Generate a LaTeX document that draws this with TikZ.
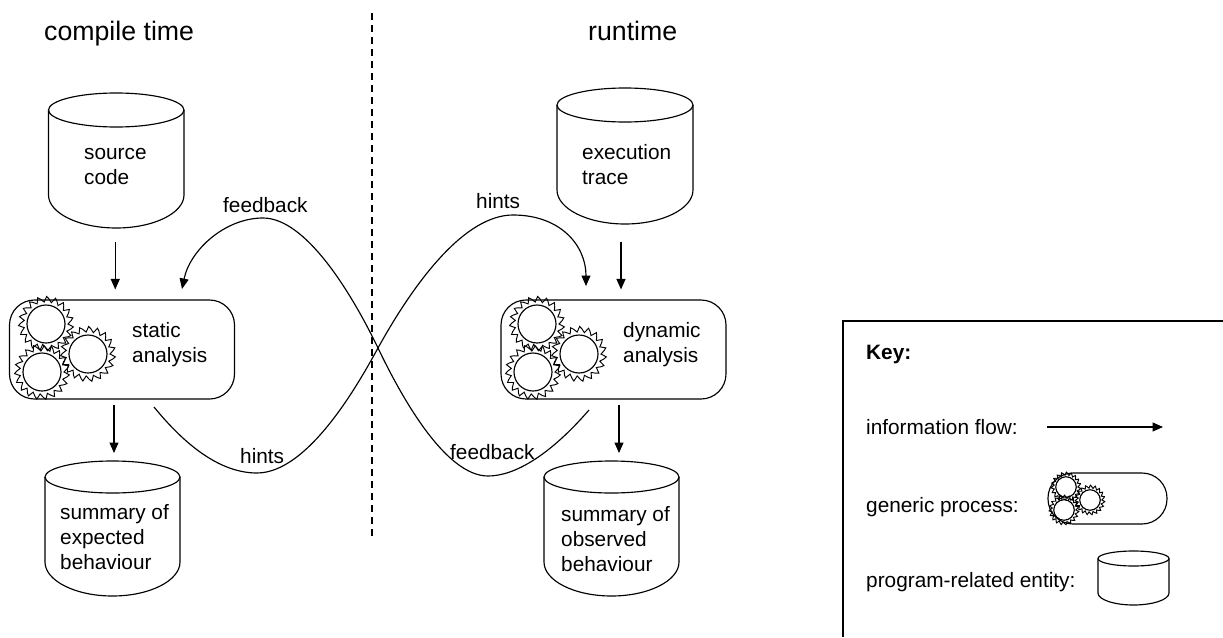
\documentclass[tikz,border=0pt]{standalone}
\usepackage{fontspec}
\setmainfont{Liberation Sans}
\usetikzlibrary{arrows.meta,calc}
\newcommand{\firststrut}{\rule{0pt}{16pt}}
\tikzset{
  ink/.style={line width=1.15pt,black},
  flow/.style={ink,-{Triangle[length=10.5pt,width=9pt]}},
  curvearrow/.style={ink,-{Triangle[length=10.5pt,width=9pt]}},
  procbox/.style={ink,draw,rounded corners=25pt,inner sep=0pt},
  hollow/.style={inner sep=0pt,outer sep=0pt},
  lab/.style={inner sep=0pt,anchor=north west,align=left,font=\fontsize{20.8}{25.3}\selectfont},
  titlelab/.style={inner sep=0pt,anchor=base west,font=\fontsize{26.7}{30}\selectfont},
  keyframe/.style={ink},
  divider/.style={line width=1.1pt,dash pattern=on 7pt off 5pt},
  gear/.pic={
    \draw[line width=0.95pt,line join=miter,miter limit=3]
      (0:22) \foreach \k in {0,...,18}{
        -- ({\k*360/19+6}:27.5) -- ({\k*360/19+11}:25.5) -- ({(\k+1)*360/19}:22)
      } -- cycle;
    \draw[ink,fill=white] (0,0) circle[radius=19pt];
  }
}
% name, x1, x2, top, mid, side end, bottom
\newcommand{\cylnode}[7]{%
  \pgfmathsetmacro{\cw}{#3-#2}\pgfmathsetmacro{\ch}{#7-#4}%
  \pgfmathsetmacro{\cx}{(#2+#3)/2}\pgfmathsetmacro{\cy}{(#4+#7)/2}%
  \pgfmathsetmacro{\rx}{\cw/2}\pgfmathsetmacro{\ry}{#5-#4}%
  \pgfmathsetmacro{\ca}{#2+0.45*\rx}\pgfmathsetmacro{\cb}{#3-0.45*\rx}%
  \pgfmathsetmacro{\dy}{#6+0.55*(#7-#6)}%
  \node[hollow,minimum width=\cw pt,minimum height=\ch pt] (#1) at (\cx,\cy) {};
  \draw[ink] (\cx,#5) ellipse[x radius=\rx pt,y radius=\ry pt];
  \draw[ink] (#2,#5) -- (#2,#6) .. controls (#2,\dy) and (\ca,#7) .. (\cx,#7)
     .. controls (\cb,#7) and (#3,\dy) .. (#3,#6) -- (#3,#5);
}
\begin{document}
\begin{tikzpicture}[x=1pt,y=-1pt]
\useasboundingbox (0,0) rectangle (1223,637);

% titles and divider
\node[titlelab] (tcompile) at (44,40) {compile time};
\node[titlelab] (truntime) at (588,40) {runtime};
\coordinate (divtop) at (372,13);
\coordinate (divbot) at (372,536);
\draw[divider] (divtop) -- (divbot);

% entities
\cylnode{src}{48.5}{184}{93}{110}{195}{228}
\cylnode{exec}{557}{693}{88}{105}{190}{224}
\cylnode{expd}{45}{180}{461}{477}{562}{596}
\cylnode{obsv}{544}{679}{461}{477}{562}{596}

\node[lab] (tsrc) at (84,143) {\firststrut source\\code};
\node[lab] (texec) at (582,143) {\firststrut execution\\trace};
\node[lab] (texpd) at (60,503) {\firststrut summary of\\expected\\behaviour};
\node[lab] (tobsv) at (561,505) {\firststrut summary of\\observed\\behaviour};

% processes
\node[procbox,minimum width=225pt,minimum height=99pt] (static) at (122,349.5) {};
\node[procbox,minimum width=225pt,minimum height=99pt] (dyn) at (613.5,349.5) {};
\foreach \ox in {0,491}{
  \pic at ({46+\ox},324) {gear};
  \pic at ({42+\ox},372) {gear};
  \pic at ({88+\ox},354) {gear};
}
\node[lab] (tstatic) at (132,321) {\firststrut static\\analysis};
\node[lab] (tdyn) at (623,321) {\firststrut dynamic\\analysis};

% information flow
\draw[flow,shorten <=14pt,shorten >=10pt] ([xshift=-1pt]src.south) -- ([xshift=-1pt]src.south |- static.north);
\draw[flow,shorten <=18pt,shorten >=10pt] ([xshift=-4pt]exec.south) -- ([xshift=-4pt]exec.south |- dyn.north);
\draw[flow,shorten <=5pt,shorten >=8pt] ([xshift=1.5pt]expd.north |- static.south) -- ([xshift=1.5pt]expd.north);
\draw[flow,shorten <=5pt,shorten >=8pt] ([xshift=7.5pt]obsv.north |- dyn.south) -- ([xshift=7.5pt]obsv.north);

% feedback and hints
\coordinate (fbstart) at (589,410);
\coordinate (fblow) at (488,476);
\coordinate (cross) at (378,348);
\coordinate (fbpeak) at (263,218);
\coordinate (fbend) at (182,289);
\draw[curvearrow] (fbstart) .. controls (550,455) and (515,476) .. (fblow)
  .. controls (445,476) and (401,396) .. (cross)
  .. controls (350,290) and (305,218) .. (fbpeak)
  .. controls (225,218) and (190,250) .. (fbend);
\coordinate (hstart) at (154,407);
\coordinate (hlow) at (257,473);
\coordinate (hpeak) at (513,215);
\coordinate (hend) at (586,286);
\draw[curvearrow] (hstart) .. controls (185,445) and (220,473) .. (hlow)
  .. controls (310,473) and (362,377) .. (cross)
  .. controls (415,281) and (465,215) .. (hpeak)
  .. controls (560,215) and (586,245) .. (hend);

\node[lab] (tfb1) at (223,196) {\firststrut feedback};
\node[lab] (tfb2) at (450,443) {\firststrut feedback};
\node[lab] (th1) at (240,447) {\firststrut hints};
\node[lab] (th2) at (476,192) {\firststrut hints};

% key
\coordinate (keytr) at (1223,321);
\coordinate (keytl) at (843,321);
\coordinate (keybl) at (843,637);
\draw[keyframe] (keytr) -- (keytl) -- (keybl);
\node[lab,font=\fontsize{20.8}{25.3}\selectfont\bfseries] (tkey) at (866,343) {\firststrut Key:};
\node[lab] (tinfo) at (866,418) {\firststrut information flow:};
\node[lab] (tgen) at (866,496) {\firststrut generic process:};
\node[lab] (tprog) at (866,571) {\firststrut program-related entity:};
\coordinate (kfrom) at (1047,427);
\coordinate (kto) at (1163,427);
\draw[flow] (kfrom) -- (kto);
\node[ink,draw,rounded corners=25pt,inner sep=0pt,minimum width=119pt,minimum height=51pt] (kproc) at (1107.5,498.5) {};
\foreach \gx/\gy in {1066/487,1090/500,1064/510}{
  \pic[scale=0.54,every path/.append style={line width=0.8pt}] at (\gx,\gy) {gear};
}
\cylnode{kcyl}{1098}{1169}{551}{558.5}{593}{605}
\end{tikzpicture}
\end{document}
